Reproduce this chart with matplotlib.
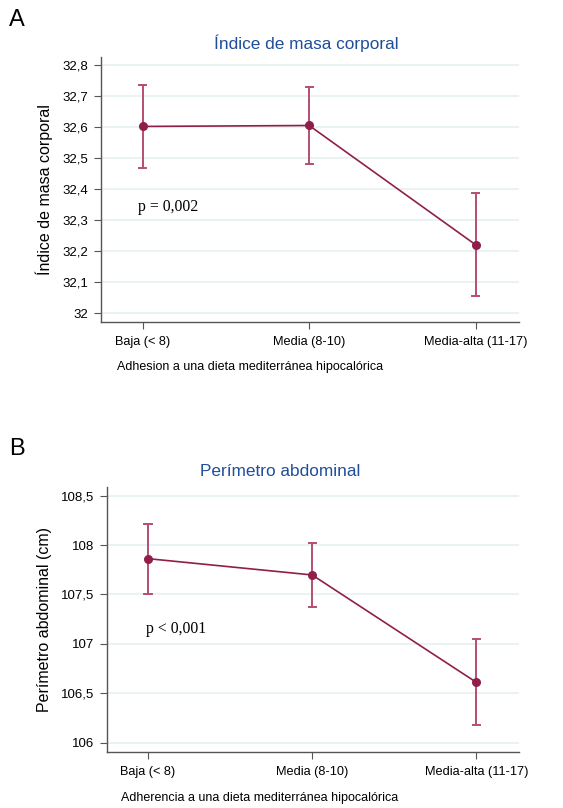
import matplotlib
matplotlib.use("Agg")
import matplotlib.pyplot as plt

plt.rcParams["font.family"] = ["Liberation Sans", "DejaVu Sans"]

CATEGORIES = ["Baja (< 8)", "Media (8-10)", "Media-alta (11-17)"]

# Panel A: indice de masa corporal
IMC_MEAN = [32.602, 32.605, 32.220]
IMC_LOW = [32.467, 32.482, 32.055]
IMC_HIGH = [32.735, 32.729, 32.388]
IMC_TICKS = [32.0, 32.1, 32.2, 32.3, 32.4, 32.5, 32.6, 32.7, 32.8]
IMC_TICKLABELS = ["32", "32,1", "32,2", "32,3", "32,4", "32,5", "32,6", "32,7", "32,8"]

# Panel B: perimetro abdominal
PA_MEAN = [107.862, 107.697, 106.611]
PA_LOW = [107.505, 107.373, 106.184]
PA_HIGH = [108.217, 108.024, 107.053]
PA_TICKS = [106.0, 106.5, 107.0, 107.5, 108.0, 108.5]
PA_TICKLABELS = ["106", "106,5", "107", "107,5", "108", "108,5"]

LINE_COLOR = "#8f1f4a"
BAR_COLOR = "#b44f72"
GRID_COLOR = "#e8f0f1"
W, H = 563, 808


def _panel(ax, means, lows, highs, ticks, ticklabels, ylim, ylabel):
    xs = list(range(len(CATEGORIES)))
    for x, lo, hi in zip(xs, lows, highs):
        ax.plot([x, x], [lo, hi], color=BAR_COLOR, lw=1.4, zorder=2)
        for y in (lo, hi):
            ax.plot([x - 0.022, x + 0.022], [y, y], color=BAR_COLOR, lw=1.4,
                    zorder=2)
    ax.plot(xs, means, color=LINE_COLOR, lw=1.2, marker="o", markersize=5.5,
            zorder=3)
    ax.set_xlim(-0.25, 2.26)
    ax.set_ylim(*ylim)
    ax.set_yticks(ticks)
    ax.set_yticklabels(ticklabels)
    ax.set_xticks(xs)
    ax.set_xticklabels(CATEGORIES)
    for t in ticks:
        ax.axhline(t, color=GRID_COLOR, lw=1.2, zorder=0)
    for side in ("top", "right"):
        ax.spines[side].set_visible(False)
    for side in ("left", "bottom"):
        ax.spines[side].set_color("#555555")
        ax.spines[side].set_linewidth(1.0)
    ax.tick_params(axis="both", length=5, width=0.8, color="#555555",
                   labelsize=9.5, pad=4)
    ax.tick_params(axis="x", labelsize=9.2, pad=5)
    ax.set_ylabel(ylabel, fontsize=11.5, labelpad=7)


fig = plt.figure(figsize=(W / 100, H / 100), dpi=100)

ax1 = fig.add_axes([101 / W, 1 - 322 / H, 418 / W, 265 / H])
_panel(ax1, IMC_MEAN, IMC_LOW, IMC_HIGH, IMC_TICKS, IMC_TICKLABELS,
       (31.971, 32.826), "Índice de masa corporal")
ax1.text(-0.03, 32.342, "p = 0,002", family=["Liberation Serif"],
         fontsize=11.3, va="center", ha="left")

ax2 = fig.add_axes([107 / W, 1 - 752.3 / H, 412 / W, 265.6 / H])
_panel(ax2, PA_MEAN, PA_LOW, PA_HIGH, PA_TICKS, PA_TICKLABELS,
       (105.903, 108.59), "Perímetro abdominal (cm)")
ax2.text(-0.01, 107.15, "p < 0,001", family=["Liberation Serif"],
         fontsize=11.3, va="center", ha="left")

fig.text(9 / W, 1 - 20 / H, "A", fontsize=17, va="center", ha="left")
fig.text(9 / W, 1 - 449 / H, "B", fontsize=17, va="center", ha="left")
fig.text(306 / W, 1 - 43 / H, "Índice de masa corporal", fontsize=12.4,
         color="#1f4e9a", ha="center", va="center")
fig.text(280 / W, 1 - 472 / H, "Perímetro abdominal", fontsize=12.4,
         color="#1f4e9a", ha="center", va="center")
fig.text(117 / W, 1 - 367 / H, "Adhesion a una dieta mediterránea hipocalórica",
         fontsize=9, ha="left", va="center")
fig.text(121 / W, 1 - 798 / H,
         "Adherencia a una dieta mediterránea hipocalórica",
         fontsize=9, ha="left", va="center")

fig.savefig("out.png", dpi=100, facecolor="white")
